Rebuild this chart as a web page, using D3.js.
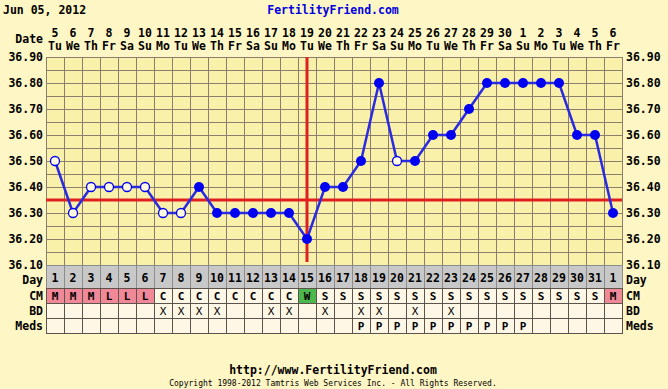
<!DOCTYPE html>
<html>
<head>
<meta charset="utf-8">
<script src="https://cdn.jsdelivr.net/npm/d3@7"></script>
<style>
  body { margin: 0; background: #fef6c4; }
  svg text { font-family: "DejaVu Sans Mono", monospace; font-weight: bold; fill: #000; }
</style>
</head>
<body>
<svg id="chart" width="668" height="389"></svg>
<script>
// chart values
var cycleDays = d3.range(1, 33);
var dateNums = [5,6,7,8,9,10,11,12,13,14,15,16,17,18,19,20,21,22,23,24,25,26,27,28,29,30,1,2,3,4,5,6];
var weekDays = ["Tu","We","Th","Fr","Sa","Su","Mo"];
var dayLabels = [1,2,3,4,5,6,7,8,9,10,11,12,13,14,15,16,17,18,19,20,21,22,23,24,25,26,27,28,29,30,31,1];
var temps = [36.50,36.30,36.40,36.40,36.40,36.40,36.30,36.30,36.40,36.30,36.30,36.30,36.30,36.30,36.20,36.40,
             36.40,36.50,36.80,36.50,36.50,36.60,36.60,36.70,36.80,36.80,36.80,36.80,36.80,36.60,36.60,36.30];
var openPts = [1,2,3,4,5,6,7,8,20];
var cmVals = ["M","M","M","L","L","L","C","C","C","C","C","C","C","C","W","S",
              "S","S","S","S","S","S","S","S","S","S","S","S","S","S","S","M"];
var bdDays = [7,8,9,10,13,14,16,18,19,21,23];
var medDays = [18,19,20,21,22,23,24,25,26,27];
var yTicks = [36.10,36.20,36.30,36.40,36.50,36.60,36.70,36.80,36.90];
var coverline = 36.35;
var ovulationDay = 15;

var svg = d3.select("#chart");
var plotL = 46, plotR = 622, plotT = 57, plotB = 265;

var x = d3.scaleBand().domain(cycleDays).range([plotL, plotR]);
var y = d3.scaleLinear().domain([36.10, 36.90]).range([plotB, plotT]);
var cx = function(d) { return x(d) + x.bandwidth() / 2; };

// header
svg.append("text").attr("x", 3).attr("y", 14).style("font-size", "11.5px").text("Jun 05, 2012");
svg.append("text").attr("x", 333).attr("y", 14).attr("text-anchor", "middle")
    .style("font-size", "11.5px").style("fill", "#0000e0").text("FertilityFriend.com");
svg.append("text").attr("x", 43).attr("y", 43).attr("text-anchor", "end").style("font-size", "11.5px").text("Date");

svg.selectAll("text.dnum").data(cycleDays).enter().append("text")
    .attr("class", "dnum").attr("x", cx).attr("y", 37).attr("text-anchor", "middle")
    .style("font-size", "11.5px").text(function(d, i) { return dateNums[i]; });
svg.selectAll("text.wday").data(cycleDays).enter().append("text")
    .attr("class", "wday").attr("x", cx).attr("y", 50).attr("text-anchor", "middle")
    .style("font-size", "11.5px").text(function(d, i) { return weekDays[i % 7]; });

// plot background + grid
svg.append("rect").attr("x", plotL).attr("y", plotT).attr("width", plotR - plotL).attr("height", plotB - plotT)
    .attr("fill", "#f9f0a9");
var grid = svg.append("g").attr("stroke", "#8c7e6e").attr("stroke-width", 1);
var halfTicks = d3.range(0, 17).map(function(i) { return 36.10 + i * 0.05; });
grid.selectAll("line.h").data(halfTicks).enter().append("line")
    .attr("class", "h")
    .attr("x1", plotL).attr("x2", plotR)
    .attr("y1", function(d) { return Math.round(y(d)) + 0.5; })
    .attr("y2", function(d) { return Math.round(y(d)) + 0.5; });
grid.selectAll("line.v").data(cycleDays.concat([33])).enter().append("line")
    .attr("class", "v")
    .attr("x1", function(d) { return (d <= 32 ? x(d) : plotR) + 0.5; })
    .attr("x2", function(d) { return (d <= 32 ? x(d) : plotR) + 0.5; })
    .attr("y1", plotT).attr("y2", plotB);

// y labels both sides
svg.selectAll("text.yl").data(yTicks).enter().append("text")
    .attr("class", "yl")
    .attr("x", 43).attr("y", function(d) { return y(d) + 4; }).attr("text-anchor", "end")
    .style("font-size", "11.5px").text(function(d) { return d.toFixed(2); });
svg.selectAll("text.yr").data(yTicks).enter().append("text")
    .attr("class", "yr")
    .attr("x", 626).attr("y", function(d) { return y(d) + 4; })
    .style("font-size", "11.5px").text(function(d) { return d.toFixed(2); });

// coverline and ovulation line
svg.append("line").attr("x1", plotL).attr("x2", plotR)
    .attr("y1", y(coverline)).attr("y2", y(coverline))
    .attr("stroke", "#e02020").attr("stroke-width", 3);
svg.append("line").attr("x1", cx(ovulationDay)).attr("x2", cx(ovulationDay))
    .attr("y1", plotT).attr("y2", plotB - 3)
    .attr("stroke", "#e02020").attr("stroke-width", 3);

// temperature line + points
svg.append("path").datum(cycleDays)
    .attr("fill", "none").attr("stroke", "#2a2ae0").attr("stroke-width", 2.5)
    .attr("d", d3.line().x(cx).y(function(d, i) { return y(temps[i]); }));
svg.selectAll("circle.pt").data(cycleDays).enter().append("circle")
    .attr("class", "pt")
    .attr("cx", cx).attr("cy", function(d, i) { return y(temps[i]); })
    .attr("r", function(d) { return openPts.indexOf(d) >= 0 ? 4.5 : 5; })
    .attr("fill", function(d) { return openPts.indexOf(d) >= 0 ? "#fffbe0" : "#0000f0"; })
    .attr("stroke", "#0000f0").attr("stroke-width", function(d) { return openPts.indexOf(d) >= 0 ? 1.3 : 0; });

// table rows below
var rows = [
  { name: "Day", y0: 265, y1: 288 },
  { name: "CM", y0: 288, y1: 303 },
  { name: "BD", y0: 303, y1: 318 },
  { name: "Meds", y0: 318, y1: 333 }
];
rows.forEach(function(r, ri) {
  var g = svg.append("g");
  g.selectAll("rect").data(cycleDays).enter().append("rect")
    .attr("x", function(d) { return x(d) + 0.5; }).attr("y", r.y0 + 0.5)
    .attr("width", x.bandwidth()).attr("height", r.y1 - r.y0)
    .attr("fill", function(d, i) {
      if (ri === 0) return "#c8c8c8";
      if (ri === 1 && (cmVals[i] === "M" || cmVals[i] === "L")) return "#f08898";
      if (ri === 1 && cmVals[i] === "W") return "#4cb84c";
      return "#fff7e6";
    })
    .attr("stroke", ri === 0 ? "#8c8c8c" : "#5c544c").attr("stroke-width", 1);
  var mid = ri === 0 ? 283.5 : (r.y0 + r.y1) / 2 + 4;
  svg.append("text").attr("x", 43).attr("y", mid).attr("text-anchor", "end")
    .style("font-size", "11.5px").text(r.name);
  svg.append("text").attr("x", 626).attr("y", mid)
    .style("font-size", "11.5px").text(r.name);
});

svg.selectAll("text.day").data(cycleDays).enter().append("text")
  .attr("class", "day")
  .attr("x", cx).attr("y", 282).attr("text-anchor", "middle")
  .style("font-size", "11.5px").text(function(d, i) { return dayLabels[i]; });
svg.selectAll("text.cm").data(cycleDays).enter().append("text")
  .attr("class", "cm")
  .attr("x", cx).attr("y", 299.5).attr("text-anchor", "middle")
  .style("font-size", "11px").text(function(d, i) { return cmVals[i]; });
svg.selectAll("text.bd").data(bdDays).enter().append("text")
  .attr("class", "bd")
  .attr("x", cx).attr("y", 314.5).attr("text-anchor", "middle")
  .style("font-size", "11px").style("font-weight", "normal").text("X");
svg.selectAll("text.med").data(medDays).enter().append("text")
  .attr("class", "med")
  .attr("x", cx).attr("y", 329.5).attr("text-anchor", "middle")
  .style("font-size", "11px").text("P");

// footer
svg.append("text").attr("x", 333).attr("y", 374).attr("text-anchor", "middle")
  .style("font-size", "11.5px").text("http://www.FertilityFriend.com");
svg.append("text").attr("x", 333).attr("y", 386).attr("text-anchor", "middle")
  .style("font-size", "8px").style("font-weight", "normal")
  .text("Copyright 1998-2012 Tamtris Web Services Inc. - All Rights Reserved.");
</script>
</body>
</html>
